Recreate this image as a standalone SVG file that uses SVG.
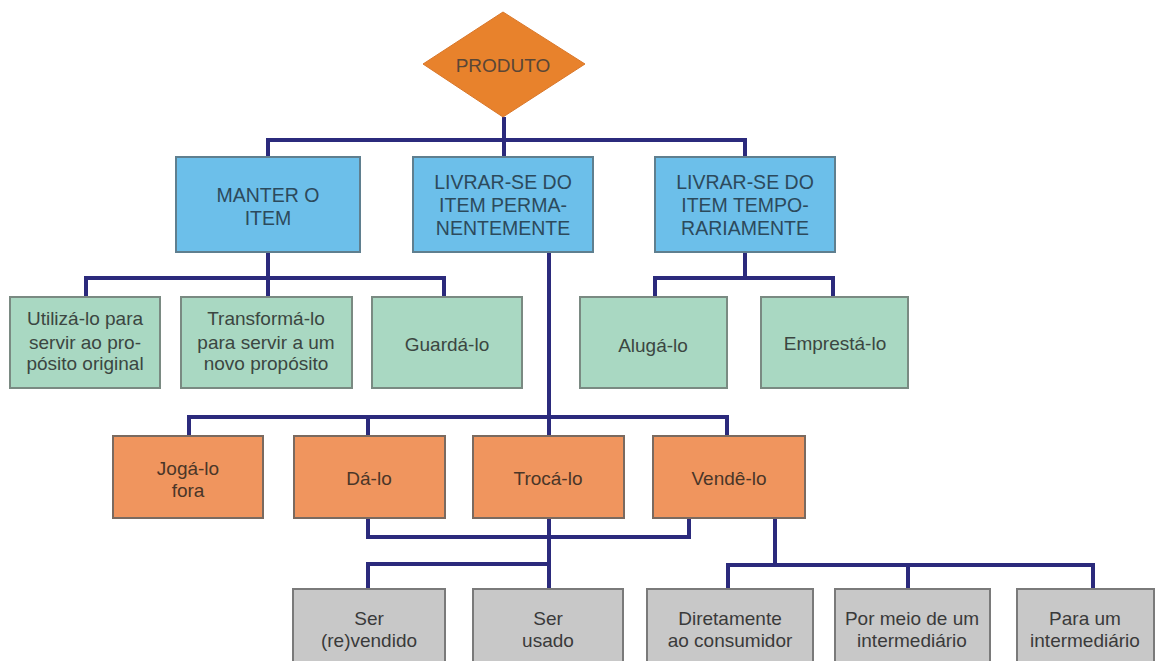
<svg xmlns="http://www.w3.org/2000/svg" width="1164" height="661" viewBox="0 0 1164 661">
<style>
text{font-family:"Liberation Sans",Arial,sans-serif;font-size:19px;text-anchor:middle}
.blue rect{fill:#6cbfea;stroke:#5f7f8f;stroke-width:2}
.blue text{fill:#2c4a5c;font-size:19.5px}
.green rect{fill:#a9d8c2;stroke:#7a8a82;stroke-width:2}
.green text{fill:#3b4641}
.orange rect{fill:#f0955e;stroke:#7a6a60;stroke-width:2}
.orange text{fill:#4a3628}
.gray rect{fill:#c8c8c8;stroke:#7a7a7a;stroke-width:2}
.gray text{fill:#3a3a3a}
#connectors path{fill:none;stroke:#2b2a7c;stroke-width:4}
</style>
<rect width="1164" height="661" fill="#ffffff"/>
<g id="connectors">
<path d="M504 117V157M268 157V140H745V157"/>
<path d="M268 252V278M86 297V278H444V297M268 278V297"/>
<path d="M745 252V278M655 297V278H833V297"/>
<path d="M549 252V436M189 436V417H727V436M368 417V436"/>
<path d="M368 518V537H689V518"/>
<path d="M549 518V589M368 589V564H549"/>
<path d="M775 518V565M728 589V565H1093V589M908 565V589"/>
</g>
<g id="produto">
<polygon points="503,12 585,64 503,117 423,64" fill="#e8822c" stroke="#d9772a" stroke-width="1"/>
<text x="503" y="72" fill="#5a4636" font-size="19">PRODUTO</text>
</g>
<g id="manter" class="blue"><rect x="176" y="157" width="184" height="95"/><text x="268" y="202">MANTER O</text><text x="268" y="225">ITEM</text></g>
<g id="livrar-perm" class="blue"><rect x="413" y="157" width="180" height="95"/><text x="503" y="189">LIVRAR-SE DO</text><text x="503" y="212">ITEM PERMA-</text><text x="503" y="235">NENTEMENTE</text></g>
<g id="livrar-temp" class="blue"><rect x="655" y="157" width="180" height="95"/><text x="745" y="189">LIVRAR-SE DO</text><text x="745" y="212">ITEM TEMPO-</text><text x="745" y="235">RARIAMENTE</text></g>
<g id="utiliza" class="green"><rect x="10" y="297" width="150" height="91"/><text x="85" y="325">Utilizá-lo para</text><text x="85" y="349">servir ao pro-</text><text x="85" y="370">pósito original</text></g>
<g id="transforma" class="green"><rect x="181" y="297" width="171" height="91"/><text x="266" y="325">Transformá-lo</text><text x="266" y="349">para servir a um</text><text x="266" y="370">novo propósito</text></g>
<g id="guarda" class="green"><rect x="372" y="297" width="150" height="91"/><text x="447" y="351">Guardá-lo</text></g>
<g id="aluga" class="green"><rect x="580" y="297" width="147" height="91"/><text x="653" y="352">Alugá-lo</text></g>
<g id="empresta" class="green"><rect x="761" y="297" width="147" height="91"/><text x="835" y="350">Emprestá-lo</text></g>
<g id="joga" class="orange"><rect x="113" y="436" width="150" height="82"/><text x="188" y="475">Jogá-lo</text><text x="188" y="497">fora</text></g>
<g id="da" class="orange"><rect x="294" y="436" width="151" height="82"/><text x="369" y="485">Dá-lo</text></g>
<g id="troca" class="orange"><rect x="473" y="436" width="151" height="82"/><text x="548" y="485">Trocá-lo</text></g>
<g id="vende" class="orange"><rect x="653" y="436" width="152" height="82"/><text x="729" y="485">Vendê-lo</text></g>
<g id="revendido" class="gray"><rect x="293" y="589" width="152" height="80"/><text x="369" y="625">Ser</text><text x="369" y="647">(re)vendido</text></g>
<g id="usado" class="gray"><rect x="473" y="589" width="150" height="80"/><text x="548" y="625">Ser</text><text x="548" y="647">usado</text></g>
<g id="diretamente" class="gray"><rect x="647" y="589" width="166" height="80"/><text x="730" y="625">Diretamente</text><text x="730" y="647">ao consumidor</text></g>
<g id="por-meio" class="gray"><rect x="835" y="589" width="155" height="80"/><text x="912" y="625">Por meio de um</text><text x="912" y="647">intermediário</text></g>
<g id="para-um" class="gray"><rect x="1017" y="589" width="137" height="80"/><text x="1085" y="625">Para um</text><text x="1085" y="647">intermediário</text></g>
</svg>
